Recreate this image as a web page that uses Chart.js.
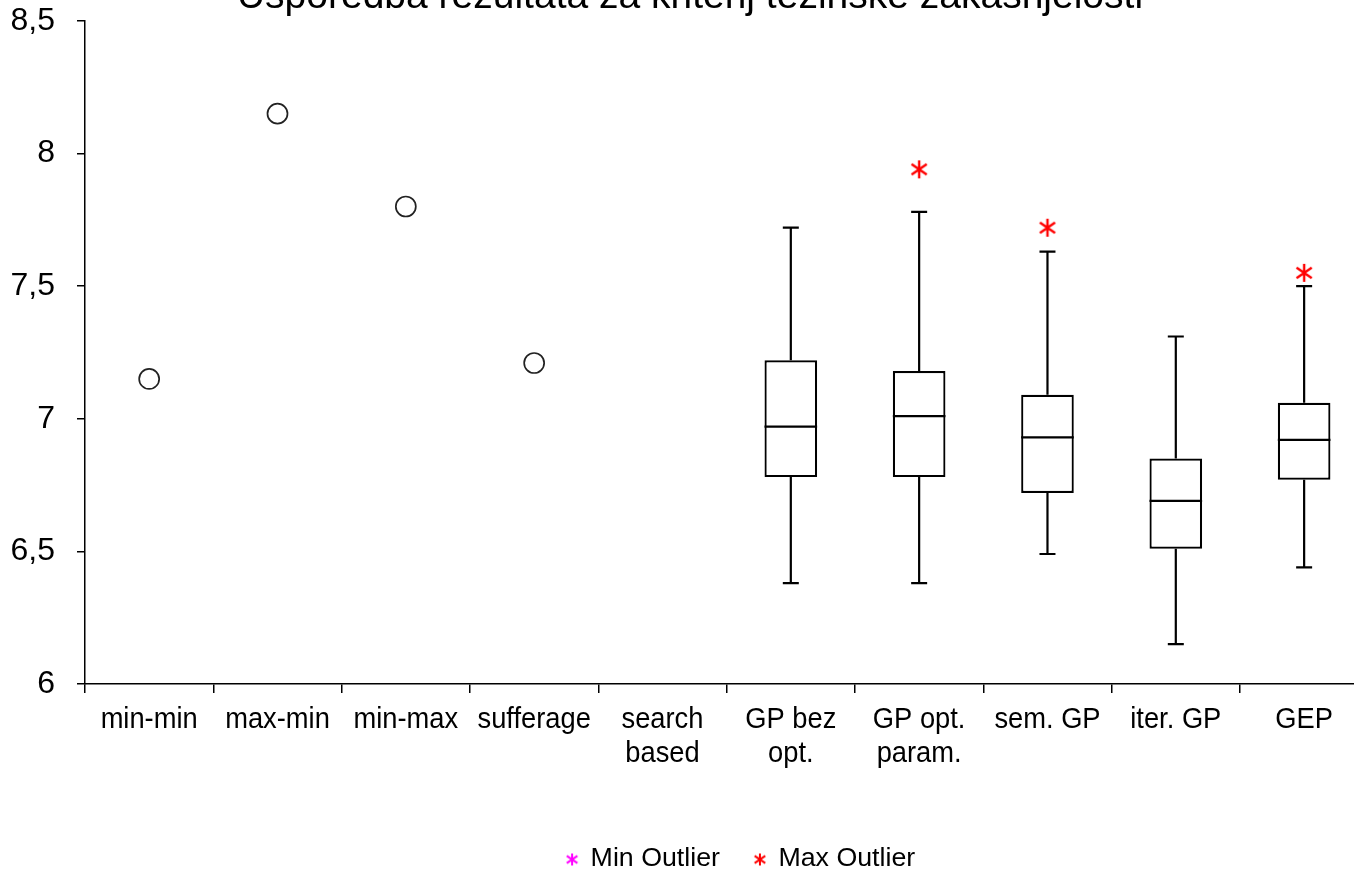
<!DOCTYPE html>
<html>
<head>
<meta charset="utf-8">
<script src="https://cdn.jsdelivr.net/npm/chart.js@4/dist/chart.umd.min.js"></script>
<style>
  html, body { margin: 0; padding: 0; background: #fff; overflow: hidden; }
  #wrap { position: absolute; left: 0; top: -26px; width: 1380px; height: 908px; }
</style>
</head>
<body>
<div id="wrap"><canvas id="boxchart"></canvas></div>
<script>
// categories and values
var categories = ['min-min', 'max-min', 'min-max', 'sufferage', ['search', 'based'],
                  ['GP bez', 'opt.'], ['GP opt.', 'param.'], 'sem. GP', 'iter. GP', 'GEP'];
var heuristicValues = [7.15, 8.15, 7.80, 7.21, null, null, null, null, null, null];
var whiskerMin = [null, null, null, null, null, 6.38, 6.38, 6.49, 6.15, 6.44];
var quartile1  = [null, null, null, null, null, 6.78, 6.78, 6.72, 6.51, 6.77];
var medians    = [null, null, null, null, null, 6.97, 7.01, 6.93, 6.69, 6.92];
var quartile3  = [null, null, null, null, null, 7.22, 7.18, 7.09, 6.85, 7.06];
var whiskerMax = [null, null, null, null, null, 7.72, 7.78, 7.63, 7.31, 7.50];
var maxOutliers = [null, null, null, null, null, null, 7.94, 7.72, null, 7.55];
var minOutliers = [null, null, null, null, null, null, null, null, null, null];
var yTicks = [6, 6.5, 7, 7.5, 8, 8.5];

var FONT = "'Liberation Sans', Arial, sans-serif";

// category labels are set a bit narrow, legend text a bit wide in the original
var SQUEEZE = { '30': 0.91, '25': 1.07 };
(function () {
    var proto = CanvasRenderingContext2D.prototype;
    var fill = proto.fillText, measure = proto.measureText;
    function squeeze(c) {
        var m = /(\d+(?:\.\d+)?)px/.exec(c.font);
        return (m && SQUEEZE[m[1]]) || 1;
    }
    proto.fillText = function (t, x, y) {
        var s = squeeze(this);
        if (s === 1) return fill.apply(this, arguments);
        this.save();
        this.translate(x, y);
        this.scale(s, 1);
        fill.call(this, t, 0, 0);
        this.restore();
    };
    proto.measureText = function (t) {
        var m = measure.call(this, t), s = squeeze(this);
        if (s === 1) return m;
        return {
            width: m.width * s,
            actualBoundingBoxAscent: m.actualBoundingBoxAscent,
            actualBoundingBoxDescent: m.actualBoundingBoxDescent,
            actualBoundingBoxLeft: m.actualBoundingBoxLeft * s,
            actualBoundingBoxRight: m.actualBoundingBoxRight * s
        };
    };
})();

// asterisk marker (vertical stroke + X)
function asterisk(color, size, lw) {
    var c = document.createElement('canvas');
    c.width = size; c.height = size;
    var g = c.getContext('2d');
    var m = size / 2;
    g.strokeStyle = color;
    g.lineWidth = lw;
    g.beginPath();
    g.moveTo(m, 1); g.lineTo(m, size - 1);
    g.moveTo(m - size * 0.38, size * 0.24); g.lineTo(m + size * 0.38, size * 0.76);
    g.moveTo(m + size * 0.38, size * 0.24); g.lineTo(m - size * 0.38, size * 0.76);
    g.stroke();
    return c;
}

var boxes = quartile1.map(function (q, i) {
    return q === null ? null : [q, quartile3[i]];
});

// whiskers and medians drawn through the scales
var boxplotLines = {
    id: 'boxplotLines',
    afterDatasetsDraw: function (chart) {
        var ctx = chart.ctx, x = chart.scales.x, y = chart.scales.y;
        var meta = chart.getDatasetMeta(0);
        ctx.save();
        ctx.strokeStyle = '#000';
        ctx.lineWidth = 2.2;
        for (var i = 0; i < categories.length; i++) {
            if (medians[i] === null) continue;
            var cx = x.getPixelForValue(i);
            var half = meta.data[i].width / 2;
            var cap = 8;
            ctx.beginPath();
            ctx.moveTo(cx, y.getPixelForValue(quartile3[i]));
            ctx.lineTo(cx, y.getPixelForValue(whiskerMax[i]));
            ctx.moveTo(cx - cap, y.getPixelForValue(whiskerMax[i]));
            ctx.lineTo(cx + cap, y.getPixelForValue(whiskerMax[i]));
            ctx.moveTo(cx, y.getPixelForValue(quartile1[i]));
            ctx.lineTo(cx, y.getPixelForValue(whiskerMin[i]));
            ctx.moveTo(cx - cap, y.getPixelForValue(whiskerMin[i]));
            ctx.lineTo(cx + cap, y.getPixelForValue(whiskerMin[i]));
            ctx.moveTo(cx - half, y.getPixelForValue(medians[i]));
            ctx.lineTo(cx + half, y.getPixelForValue(medians[i]));
            ctx.stroke();
        }
        ctx.restore();
    }
};

// legend sits a little right of the plot centre in the original
var legendShift = {
    id: 'legendShift',
    afterLayout: function (chart) {
        chart.legend.left += 14;
        chart.legend.right += 14;
    }
};

var ctx = document.getElementById('boxchart').getContext('2d');
var chart = new Chart(ctx, {
    type: 'bar',
    data: {
        labels: categories,
        datasets: [{
            label: 'box',
            data: boxes,
            backgroundColor: '#fff',
            borderColor: '#000',
            borderWidth: 2.2,
            borderSkipped: false,
            categoryPercentage: 1,
            barPercentage: 0.41,
            order: 2
        }, {
            type: 'line',
            label: 'heuristics',
            data: heuristicValues,
            showLine: false,
            pointStyle: 'circle',
            pointRadius: 10,
            pointBorderWidth: 1.7,
            pointBorderColor: '#222',
            pointBackgroundColor: '#fff',
            order: 1
        }, {
            type: 'line',
            label: 'Min Outlier',
            data: minOutliers,
            showLine: false,
            pointStyle: asterisk('#ff00ff', 20, 2.4),
            borderColor: '#ff00ff',
            order: 0
        }, {
            type: 'line',
            label: 'Max Outlier',
            data: maxOutliers,
            showLine: false,
            pointStyle: asterisk('#ff0000', 20, 2.4),
            borderColor: '#ff0000',
            order: 0
        }]
    },
    plugins: [boxplotLines, legendShift],
    options: {
        responsive: true,
        maintainAspectRatio: false,
        animation: false,
        devicePixelRatio: 1,
        layout: { padding: 0 },
        plugins: {
            title: {
                display: true,
                text: 'Usporedba rezultata za kriterij težinske zakašnjelosti',
                color: '#000',
                font: { family: FONT, size: 39, weight: 'normal', lineHeight: 1.2 },
                padding: { top: 0, bottom: 0 }
            },
            legend: {
                position: 'bottom',
                fullSize: false,
                labels: {
                    usePointStyle: true,
                    boxWidth: 12,
                    boxHeight: 12,
                    padding: 34,
                    color: '#000',
                    font: { family: FONT, size: 25 },
                    generateLabels: function (chart) {
                        return [2, 3].map(function (i) {
                            var ds = chart.data.datasets[i];
                            return {
                                text: ds.label,
                                pointStyle: asterisk(ds.borderColor, 14, 2),
                                fillStyle: ds.borderColor,
                                strokeStyle: ds.borderColor,
                                lineWidth: 0,
                                fontColor: '#000',
                                datasetIndex: i
                            };
                        });
                    }
                }
            },
            tooltip: { enabled: false }
        },
        scales: {
            x: {
                offset: true,
                afterFit: function (axis) { axis.height = 129; },
                grid: {
                    display: true,
                    offset: true,
                    drawOnChartArea: false,
                    tickLength: 9,
                    color: '#000',
                    lineWidth: 1.5
                },
                border: { display: true, color: '#000', width: 1.5 },
                ticks: {
                    color: '#000',
                    maxRotation: 0,
                    autoSkip: false,
                    padding: 10,
                    font: { family: FONT, size: 30, lineHeight: 1.13 }
                }
            },
            y: {
                min: 6,
                max: 8.5,
                afterFit: function (axis) { axis.width = 85; },
                afterBuildTicks: function (axis) {
                    axis.ticks = yTicks.map(function (v) { return { value: v }; });
                },
                grid: {
                    display: true,
                    drawOnChartArea: false,
                    tickLength: 8,
                    color: '#000',
                    lineWidth: 1.5
                },
                border: { display: true, color: '#000', width: 1.5 },
                ticks: {
                    color: '#000',
                    padding: 22,
                    font: { family: FONT, size: 32 },
                    callback: function (v) { return String(v).replace('.', ','); }
                }
            }
        }
    }
});
</script>
</body>
</html>
